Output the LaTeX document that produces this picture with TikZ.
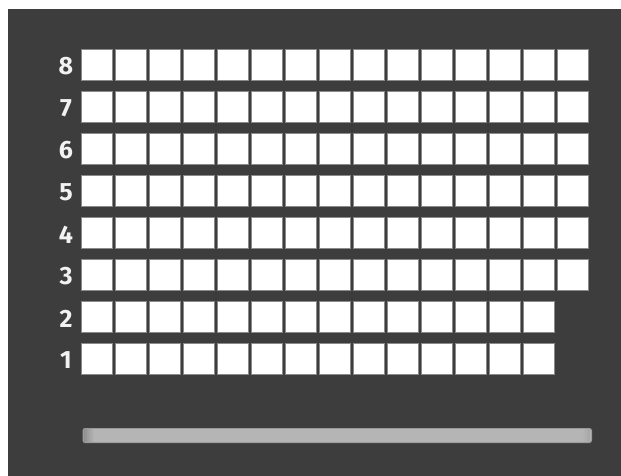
\documentclass[tikz,border=0pt]{standalone}
\usepackage{fontspec}
\setmainfont{Fira Sans}
\begin{document}
\begin{tikzpicture}[x=1pt,y=-1pt,
  cellbox/.style={draw=cellgray,line width=1pt,fill=white,minimum width=31pt,minimum height=31pt,inner sep=0pt},
  rowlabel/.style={text=labelwhite,font=\bfseries\fontsize{25}{25}\selectfont,inner sep=0pt,anchor=center}]
\definecolor{bgdark}{HTML}{3D3D3D}
\definecolor{cellgray}{HTML}{8A8A8A}
\definecolor{labelwhite}{HTML}{F2F2F2}
\definecolor{bargray}{HTML}{B5B5B5}
\useasboundingbox (0,0) rectangle (621,476);
\fill[white] (0,0) rectangle (621,476);
\fill[bgdark] (8,9) rectangle (621,476);
\foreach \r in {1,...,8}{
  \pgfmathsetmacro{\yc}{49+42*(8-\r)+16}
  \node[rowlabel] (lab\r) at (66,\yc+1.5) {\r};
  \ifnum\r<3
    \def\ncols{14}
  \else
    \def\ncols{15}
  \fi
  \foreach \c in {1,...,\ncols}{
    \pgfmathsetmacro{\xc}{80.5+34.06*(\c-1)+16}
    \node[cellbox] (cell-\r-\c) at (\xc,\yc) {};
  }
}
\fill[bargray!85!black, rounded corners=2.5pt] (82.5,428) rectangle (592,443);
\fill[bargray, rounded corners=2pt] (84,429) rectangle (591,442);
\shade[left color=bargray!80!black, right color=bargray] (84,429.5) rectangle (94,441.5);
\shade[right color=bargray!92!black, left color=bargray] (582,429.5) rectangle (590,441.5);
\end{tikzpicture}
\end{document}
